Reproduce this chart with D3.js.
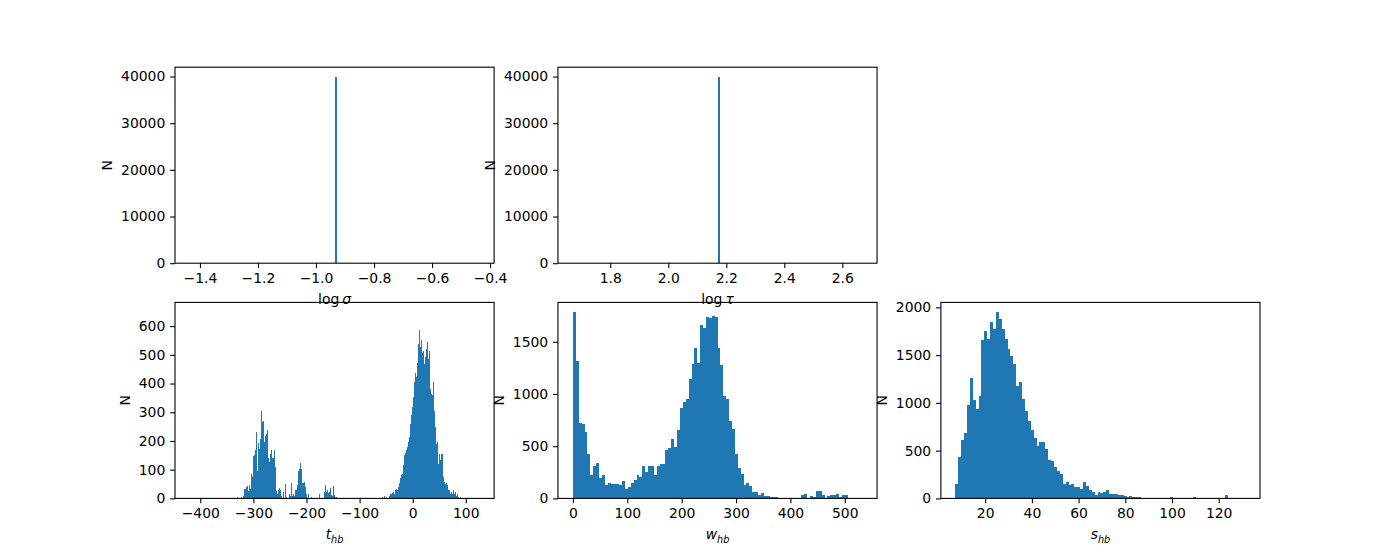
<!DOCTYPE html>
<html><head><meta charset="utf-8">
<script src="https://cdn.jsdelivr.net/npm/d3@7"></script>
<style>
body{margin:0;background:#fff;}
svg text{font-family:"DejaVu Sans",sans-serif;}
</style></head>
<body><svg id="chart" width="1400" height="560"></svg>
<script>
// ---------------- data ----------------
const logSigmaEdges = [-0.935, -0.928];
const logSigmaCounts = [40000];
const logTauEdges = [2.172, 2.179];
const logTauCounts = [40000];

const tBinWidth = 1.884;
const tLeftStart = -330.84;
const tCountsLeft = [
  5,0,0,0,5,0,8,31,31,39,
  42,26,45,34,86,74,147,152,167,230,
  95,193,172,208,303,266,271,196,219,225,
  237,139,126,155,167,139,139,167,109,26,
  16,28,37,30,7,0,24,0,51,5,
  0,0,16,10,52,10,16,10,28,28,
  45,95,101,124,101,53,53,56,39,14,
  0,14,0,0,5,0,0,0,0,0,
  0,0,14,0,0,0,0,22,45,24,
  30,18,24,37,13,10,42,13,5,5
];
const tRightStart = -57.6;
const tCountsRight = [
  5,0,7,0,5,0,0,10,16,14,
  19,22,16,28,34,28,39,53,71,80,
  86,116,151,157,168,180,197,215,259,290,
  317,354,406,435,421,470,539,588,527,552,
  506,515,469,492,521,544,486,515,382,365,
  359,406,306,248,190,196,121,153,132,155,
  153,74,57,51,53,45,28,28,14,22,
  14,28,16,22,10,14,5,0,5
];

const wStart = 0, wBinWidth = 5.32;
const wCounts = [
  1785,1316,722,712,636,425,227,313,339,198,
  224,128,147,137,137,137,128,166,89,109,
  147,176,224,204,310,252,310,310,224,310,
  329,329,463,482,568,492,655,865,923,952,
  1143,1287,1440,1296,1660,1632,1737,1727,1746,1737,
  1440,1277,980,952,741,664,425,291,233,128,
  147,118,58,61,32,51,23,23,13,13,
  13,0,0,0,0,0,0,0,0,32,
  42,3,23,13,70,70,32,5,23,32,
  32,42,13,32,32,0,0,0,0,2
];

const sStart = 7.2, sBinWidth = 1.243;
const sCounts = [
  151,434,612,685,978,1261,1030,936,1072,1658,
  1753,1669,1847,1773,1952,1879,1773,1669,1564,1491,
  1407,1177,1219,1041,916,811,716,632,549,590,
  590,517,402,392,329,287,255,151,172,140,
  151,119,119,98,172,130,84,62,36,67,
  60,67,88,46,46,46,36,36,25,14,
  25,14,14,14,0,0,0,0,0,0,
  0,0,0,0,14,0,0,0,0,0,
  0,0,14,0,0,0,0,0,0,0,
  0,0,0,36,0,0,0,0,0,2
];

// tick values
const logSigmaTicks = [-1.4,-1.2,-1.0,-0.8,-0.6,-0.4];
const logTauTicks = [1.8,2.0,2.2,2.4,2.6];
const topYTicks = [0,10000,20000,30000,40000];
const tTicks = [-400,-300,-200,-100,0,100];
const tYTicks = [0,100,200,300,400,500,600];
const wTicks = [0,100,200,300,400,500];
const wYTicks = [0,500,1000,1500];
const sTicks = [20,40,60,80,100,120];
const sYTicks = [0,500,1000,1500,2000];

// ---------------- helpers ----------------
function binsFromEdges(edges, counts){
  return counts.map((n,i)=>({x0:edges[i], x1:edges[i+1], n}));
}
function binsFromStart(start, width, counts){
  return counts.map((n,i)=>({x0:start+i*width, x1:start+(i+1)*width, n}));
}

const svg = d3.select("#chart");
const FS = 13.9;            // 10pt at 100 dpi
const TICK = 4.86;          // 3.5pt
const W = 319.12, H = 196;
const colLeft = [175, 557.94, 940.88];
const rowTop = [67.2, 302.4];

function drawPanel(cfg){
  const g = svg.append("g").attr("transform", `translate(${cfg.left},${cfg.top})`);
  const x = d3.scaleLinear().domain(cfg.xDomain).range([0, W]);
  const y = d3.scaleLinear().domain(cfg.yDomain).range([H, 0]);

  g.append("g").attr("shape-rendering","crispEdges")
    .selectAll("rect.bar").data(cfg.bins.filter(d=>d.n>0)).join("rect")
    .attr("class","bar")
    .attr("x", d=>x(d.x0))
    .attr("width", d=>Math.max(1, x(d.x1)-x(d.x0)))
    .attr("y", d=>y(d.n))
    .attr("height", d=>y(0)-y(d.n))
    .attr("fill", "#1f77b4");

  const xa = g.append("g").attr("transform", `translate(0,${H})`)
    .call(d3.axisBottom(x).tickValues(cfg.xTicks).tickFormat(d3.format(cfg.xFmt))
      .tickSize(TICK).tickPadding(4.86));
  const ya = g.append("g")
    .call(d3.axisLeft(y).tickValues(cfg.yTicks).tickFormat(d3.format("d"))
      .tickSize(TICK).tickPadding(4.86));
  [xa, ya].forEach(a=>{
    a.select(".domain").remove();
    a.attr("font-size", FS).attr("font-family", "DejaVu Sans");
    a.selectAll("line").attr("stroke", "#000").attr("stroke-width", 1.1);
    a.selectAll("text").attr("fill", "#000");
  });

  g.append("rect").attr("x",0).attr("y",0).attr("width",W).attr("height",H)
    .attr("fill","none").attr("stroke","#000").attr("stroke-width",1.1);

  // y label
  const bb = ya.node().getBBox();
  const nx = bb.x - 5.56 - 3.3;
  g.append("text").attr("x", nx).attr("y", H/2)
    .attr("transform", `rotate(-90,${nx},${H/2})`)
    .attr("text-anchor","middle").attr("font-size", FS).text("N");

  // x label
  const lab = g.append("text").attr("x", W/2).attr("y", H + 41)
    .attr("text-anchor","middle").attr("font-size", FS);
  if (cfg.labelKind === "log") {
    lab.append("tspan").text("log");
    lab.append("tspan").attr("dx", 3).attr("font-style","italic").text(cfg.sym);
  } else {
    lab.append("tspan").attr("font-style","italic").text(cfg.sym);
    lab.append("tspan").attr("font-style","italic").attr("font-size", FS*0.7)
      .attr("dy", 3.5).text("hb");
  }
}

drawPanel({left:colLeft[0], top:rowTop[0], xDomain:[-1.486,-0.386], yDomain:[0,42000],
  bins:binsFromEdges(logSigmaEdges, logSigmaCounts), xTicks:logSigmaTicks, xFmt:".1f",
  yTicks:topYTicks, labelKind:"log", sym:"σ"});
drawPanel({left:colLeft[1], top:rowTop[0], xDomain:[1.6197,2.7197], yDomain:[0,42000],
  bins:binsFromEdges(logTauEdges, logTauCounts), xTicks:logTauTicks, xFmt:".1f",
  yTicks:topYTicks, labelKind:"log", sym:"τ"});
drawPanel({left:colLeft[0], top:rowTop[1], xDomain:[-447.67,153.4], yDomain:[0,682.5],
  bins:binsFromStart(tLeftStart, tBinWidth, tCountsLeft).concat(binsFromStart(tRightStart, tBinWidth, tCountsRight)),
  xTicks:tTicks, xFmt:"d", yTicks:tYTicks, labelKind:"sub", sym:"t"});
drawPanel({left:colLeft[1], top:rowTop[1], xDomain:[-27.6,559.4], yDomain:[0,1877],
  bins:binsFromStart(wStart, wBinWidth, wCounts), xTicks:wTicks, xFmt:"d",
  yTicks:wYTicks, labelKind:"sub", sym:"w"});
drawPanel({left:colLeft[2], top:rowTop[1], xDomain:[1.01,137.7], yDomain:[0,2052],
  bins:binsFromStart(sStart, sBinWidth, sCounts), xTicks:sTicks, xFmt:"d",
  yTicks:sYTicks, labelKind:"sub", sym:"s"});
</script>
</body></html>
